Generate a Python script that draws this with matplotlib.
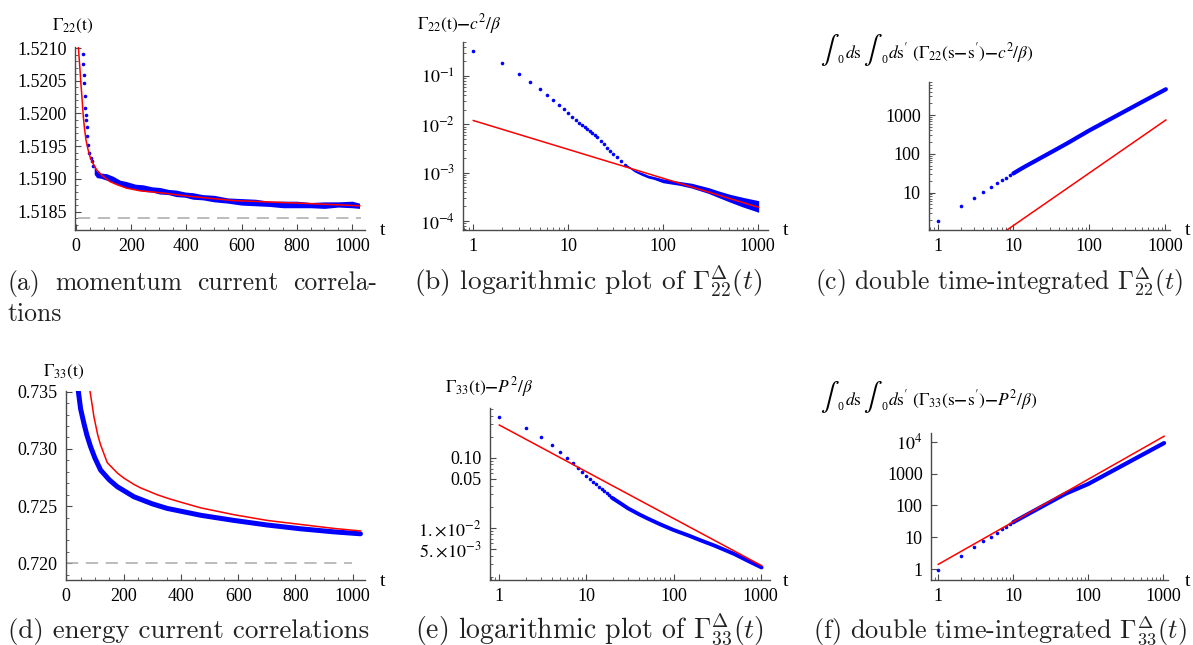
import numpy as np
import matplotlib
matplotlib.use("Agg")
import matplotlib.pyplot as plt
from matplotlib.ticker import MultipleLocator, FixedLocator, FixedFormatter, LogLocator, NullFormatter

# ── figure geometry (pixels of the reference) ───────────────
W, H = 1193, 645
BLUE = "#0000ff"
RED = "#ff0000"
AXC = "#4a4a4a"
GRAY = "#aaaaaa"

# ── (a) momentum current correlations Gamma_22(t) ──────────
a_dot_t = [24, 26.6, 29, 30, 32.6, 33.8, 35, 36, 38.6, 41, 44.5, 48, 53, 56.6, 62.6]
a_dot_y = [1.52091, 1.52076, 1.52059, 1.52046, 1.52026, 1.52008, 1.51998, 1.51990,
           1.51980, 1.51965, 1.51952, 1.51939, 1.51932, 1.51927, 1.51919]
a_band_t = [66, 75, 90, 111, 135, 160, 183, 215, 243, 275, 303, 335, 363, 395, 423, 460, 500,
            550, 600, 650, 700, 750, 800, 850, 900, 950, 1000, 1027]
a_band_mid = [1.51913, 1.51907, 1.51905, 1.51903, 1.51899, 1.51894, 1.51891, 1.51888, 1.51886,
              1.51884, 1.51882, 1.51880, 1.51878, 1.51876, 1.51874, 1.51872, 1.51870,
              1.51867, 1.51865, 1.51864, 1.51862, 1.51861, 1.51861, 1.51860, 1.51860,
              1.51861, 1.51861, 1.51859]
a_band_half = [6e-5, 5e-5, 4e-5, 5e-5, 5e-5, 4e-5, 5e-5, 4e-5, 5e-5, 4e-5, 5e-5, 4e-5, 5e-5,
               4e-5, 5e-5, 4e-5, 5e-5, 4e-5, 5e-5, 5e-5, 4e-5, 5e-5, 5e-5, 4e-5, 5e-5,
               4e-5, 5e-5, 4e-5]
a_fit_t = [8.5, 11, 14.5, 17, 20.5, 26.6, 30, 36, 43, 50.7, 60, 74.9, 95, 123, 150, 183,
           230, 303, 423, 569, 811, 1028]
a_fit_y = [1.52102, 1.52087, 1.52067, 1.52050, 1.52031, 1.51995, 1.51980, 1.51960, 1.51946,
           1.51934, 1.51925, 1.51914, 1.51905, 1.51896, 1.51891, 1.51886, 1.51882, 1.51879,
           1.51873, 1.51867, 1.51863, 1.51859]
a_plateau = 1.51841

# ── (b) log plot Gamma_22(t) - c^2/beta ─────────────────────
b_dot_t = list(range(1, 21)) + [22, 24, 26, 28, 30, 33, 36, 40]
b_dot_y = [0.329, 0.183, 0.111, 0.074, 0.0538, 0.0398, 0.0314, 0.0251, 0.0204, 0.0171,
           0.0144, 0.0123, 0.0108, 0.0097, 0.0087, 0.0079, 0.0072, 0.0065, 0.0059, 0.0054,
           0.0046, 0.0039, 0.0033, 0.0028, 0.00245, 0.0021, 0.00175, 0.00146]
b_band_t = [40, 45, 50, 60, 70, 80, 100, 150, 200, 300, 400, 500, 700, 1024]
b_band_mid = [0.00146, 0.00127, 0.00109, 0.00094, 0.00083, 0.00078, 0.00068, 0.00060,
              0.00054, 0.00043, 0.00035, 0.00030, 0.000245, 0.00020]
b_band_half = [0.02, 0.02, 0.02, 0.03, 0.03, 0.03, 0.04, 0.04, 0.05, 0.06, 0.07, 0.08, 0.10, 0.12]  # decades
b_fit_t = [1, 1024]
b_fit_y = [0.012, 0.000192]

# ── (c) double time-integrated Gamma_22 ─────────────────────
c_dot_t = list(range(1, 11))
c_dot_y = [1.90, 4.55, 7.43, 10.6, 13.8, 17.5, 20.8, 24.3, 28.0, 31.5]
c_line_t = [10, 12, 15, 20, 30, 50, 100, 200, 500, 1024]
c_line_y = [31.5, 39, 50, 68, 105, 182, 400, 830, 2180, 4600]
c_fit_t = [8, 1024]
c_fit_y = [1.06, 745]

# ── (d) energy current correlations Gamma_33(t) ─────────────
d_data_t = [41.8, 50, 61.6, 72, 84.9, 100, 119.8, 150, 177.9, 236, 300, 352, 469, 585, 701,
            817, 934, 1027]
d_data_y = [0.7351, 0.7335, 0.73223, 0.7312, 0.73019, 0.7292, 0.72815, 0.7273, 0.7267,
            0.72582, 0.7252, 0.7248, 0.72420, 0.72375, 0.72335, 0.72302, 0.72275, 0.72258]
d_fit_t = [82.5, 90, 96.5, 102, 110, 119.8, 143, 178, 201, 236, 259, 317, 352, 399, 469,
           585, 701, 817, 934, 1027]
d_fit_y = [0.7351, 0.7339, 0.73281, 0.73215, 0.73120, 0.73035, 0.72880, 0.72790, 0.72745,
           0.72690, 0.72660, 0.72600, 0.72570, 0.72535, 0.72485, 0.72425, 0.72375, 0.72340,
           0.72305, 0.72283]
d_plateau = 0.720

# ── (e) log plot Gamma_33(t) - P^2/beta ─────────────────────
e_dot_t = list(range(1, 21))
e_dot_y = [0.377, 0.268, 0.197, 0.152, 0.120, 0.0989, 0.084, 0.072, 0.063, 0.0553,
           0.0496, 0.0454, 0.0416, 0.0385, 0.0357, 0.033, 0.0309, 0.0293, 0.0277, 0.0263]
e_line_t = [20, 25, 30, 40, 50, 70, 100, 150, 200, 300, 500, 700, 1024]
e_line_y = [0.0263, 0.0220, 0.0189, 0.0156, 0.0136, 0.0112, 0.00927, 0.0077, 0.00667,
            0.0055, 0.0042, 0.0034, 0.0027]
e_fit_t = [1, 1024]
e_fit_y = [0.293, 0.00287]

# ── (f) double time-integrated Gamma_33 ─────────────────────
f_dot_t = list(range(1, 11))
f_dot_y = [0.95, 2.6, 4.9, 7.7, 10.6, 13.8, 18, 21.8, 26, 30]
f_line_t = [10, 20, 50, 100, 200, 500, 1024]
f_line_y = [30, 73, 235, 473, 1140, 3650, 9060]
f_fit_t = [1, 1024]
f_fit_y = [1.43, 14800]

# ── captions ────────────────────────────────────────────────
cap_a1 = ["(a)", "momentum", "current", "correla-"]
cap_a2 = "tions"
cap_b = r"(b) logarithmic plot of $\Gamma^{\Delta}_{22}(t)$"
cap_c = r"(c) double time-integrated $\Gamma^{\Delta}_{22}(t)$"
cap_d = "(d) energy current correlations"
cap_e = r"(e) logarithmic plot of $\Gamma^{\Delta}_{33}(t)$"
cap_f = r"(f) double time-integrated $\Gamma^{\Delta}_{33}(t)$"

# ────────────────────────────────────────────────────────────
plt.rcParams["font.family"] = "Liberation Serif"
plt.rcParams["mathtext.fontset"] = "stix"

LAB = 12.5   # axis label size
TICK = 13    # tick label size
CAP = 18.5   # caption size
CAPSTYLE = dict(family="cmr10", math_fontfamily="cm", color="#222222", va="baseline")


def px_axes(fig, left, top, right, bottom):
    return fig.add_axes([left / W, 1 - bottom / H, (right - left) / W, (bottom - top) / H])


def fig_text(fig, x, y, s, **kw):
    return fig.text(x / W, 1 - y / H, s, **kw)


def width_px(fig, t):
    return t.get_window_extent(fig.canvas.get_renderer()).width


def style(ax):
    for side in ("top", "right"):
        ax.spines[side].set_visible(False)
    for side in ("left", "bottom"):
        ax.spines[side].set_color(AXC)
        ax.spines[side].set_linewidth(1.0)
    ax.tick_params(which="both", direction="in", color=AXC, labelsize=TICK, pad=6)
    ax.tick_params(which="major", length=4.5, width=0.8)
    ax.tick_params(which="minor", length=2.5, width=0.6)
    ax.patch.set_alpha(0)


def log_minor(ax):
    for axis in (ax.xaxis, ax.yaxis):
        axis.set_minor_locator(LogLocator(base=10, subs=np.arange(2, 10)))
        axis.set_minor_formatter(NullFormatter())


def log_x_ticks(ax):
    ax.xaxis.set_major_locator(FixedLocator([1, 10, 100, 1000]))
    ax.xaxis.set_major_formatter(FixedFormatter(["1", "10", "100", "1000"]))


def integral_label(fig, y, body):
    # \int_0 ds \int_0 ds' (...) laid out piece by piece so the integral signs come out large
    x = 820
    for piece in (r"$d\mathrm{s}$", body):
        t = fig_text(fig, x, y - 1, r"$\int$", fontsize=20, ha="left", va="baseline")
        x += width_px(fig, t) - 2
        t = fig_text(fig, x, y + 5, "0", fontsize=8.5, ha="left", va="baseline")
        x += width_px(fig, t) + 1
        t = fig_text(fig, x, y, piece, fontsize=LAB, ha="left", va="baseline")
        x += width_px(fig, t) + 2


def caption_justified(fig, words, x0, x1, y):
    texts = [fig_text(fig, x0, y, w, ha="left", fontsize=CAP, **CAPSTYLE) for w in words]
    widths = [width_px(fig, t) for t in texts]
    gap = (x1 - x0 - sum(widths)) / (len(words) - 1)
    x = x0
    for t, w in zip(texts, widths):
        t.set_x(x / W)
        x += w + gap


def caption_fit(fig, s, x0, x1, y):
    # one line, centred, font size scaled so the line spans x0..x1
    t = fig_text(fig, (x0 + x1) / 2, y, s, ha="center", fontsize=CAP, **CAPSTYLE)
    size = CAP * (x1 - x0) / width_px(fig, t)
    t.set_fontsize(min(max(size, CAP - 1.5), CAP + 1.5))


fig = plt.figure(figsize=(W / 100, H / 100), dpi=100)
dot = dict(ls="none", marker="o", ms=2.6, mec="none", mfc=BLUE)

# (a)
ax = px_axes(fig, 75, 46.7, 365, 230)
style(ax)
ax.axhline(a_plateau, xmin=0.01, xmax=0.985, color=GRAY, lw=1.1, dashes=(8, 5))
ax.fill_between(a_band_t, np.array(a_band_mid) - np.array(a_band_half),
                np.array(a_band_mid) + np.array(a_band_half), color=BLUE, lw=0)
ax.plot(a_dot_t, a_dot_y, **dot)
ax.plot(a_fit_t, a_fit_y, color=RED, lw=1.1)
ax.set_xlim(-3.6, 1047)
ax.set_ylim(1.51822, 1.52102)
ax.xaxis.set_major_locator(MultipleLocator(200))
ax.xaxis.set_minor_locator(MultipleLocator(50))
ax.yaxis.set_major_locator(MultipleLocator(0.0005))
ax.yaxis.set_minor_locator(MultipleLocator(0.0001))
ax.yaxis.set_major_formatter(plt.FuncFormatter(lambda v, p: f"{v:.4f}"))
fig_text(fig, 52, 26, r"$\Gamma_{22}(\mathrm{t})$", fontsize=LAB, va="center")
fig_text(fig, 383, 231, "t", fontsize=14, ha="center", va="center")

# (b)
ax = px_axes(fig, 463.3, 41.7, 768, 230)
style(ax)
ax.set_xscale("log")
ax.set_yscale("log")
mid = np.array(b_band_mid)
half = np.array(b_band_half)
ax.fill_between(b_band_t, mid * 10 ** (-half), mid * 10 ** half, color=BLUE, lw=0)
ax.plot(b_dot_t, b_dot_y, **dot)
ax.plot(b_fit_t, b_fit_y, color=RED, lw=1.1)
ax.set_xlim(0.784, 1285)
ax.set_ylim(6.52e-5, 0.513)
log_x_ticks(ax)
ax.yaxis.set_major_locator(FixedLocator([1e-4, 1e-3, 1e-2, 1e-1]))
ax.yaxis.set_major_formatter(FixedFormatter([r"$10^{-4}$", r"$10^{-3}$", r"$10^{-2}$", r"$10^{-1}$"]))
log_minor(ax)
fig_text(fig, 417, 24, r"$\Gamma_{22}(\mathrm{t})\boldsymbol{-}c^2/\beta$", fontsize=LAB, va="center")
fig_text(fig, 786, 231, "t", fontsize=14, ha="center", va="center")

# (c)
ax = px_axes(fig, 929, 81.7, 1170, 230)
style(ax)
ax.set_xscale("log")
ax.set_yscale("log")
ax.plot(c_line_t, c_line_y, color=BLUE, lw=3.0, solid_capstyle="round")
ax.plot(c_dot_t, c_dot_y, **dot)
ax.plot(c_fit_t, c_fit_y, color=RED, lw=1.1)
ax.set_xlim(0.768, 1161)
ax.set_ylim(1.096, 7200)
log_x_ticks(ax)
ax.yaxis.set_major_locator(FixedLocator([10, 100, 1000]))
ax.yaxis.set_major_formatter(FixedFormatter(["10", "100", "1000"]))
log_minor(ax)
integral_label(fig, 58, r"$d\mathrm{s}'\ (\Gamma_{22}(\mathrm{s}\boldsymbol{-}\mathrm{s}')\boldsymbol{-}c^2/\beta)$")
fig_text(fig, 1188, 231, "t", fontsize=14, ha="center", va="center")

# (d)
ax = px_axes(fig, 66, 390.7, 365, 580)
style(ax)
ax.axhline(d_plateau, xmin=0.0, xmax=0.955, color=GRAY, lw=1.1, dashes=(8, 5))
ax.plot(d_data_t, d_data_y, color=BLUE, lw=3.6, solid_capstyle="round")
ax.plot(d_fit_t, d_fit_y, color=RED, lw=1.1)
ax.set_xlim(-1, 1043)
ax.set_ylim(0.71854, 0.73509)
ax.xaxis.set_major_locator(MultipleLocator(200))
ax.xaxis.set_minor_locator(MultipleLocator(50))
ax.yaxis.set_major_locator(MultipleLocator(0.005))
ax.yaxis.set_minor_locator(MultipleLocator(0.001))
ax.yaxis.set_major_formatter(plt.FuncFormatter(lambda v, p: f"{v:.3f}"))
fig_text(fig, 43, 372, r"$\Gamma_{33}(\mathrm{t})$", fontsize=LAB, va="center")
fig_text(fig, 383, 581, "t", fontsize=14, ha="center", va="center")

# (e)
ax = px_axes(fig, 490, 408, 770, 580)
style(ax)
ax.set_xscale("log")
ax.set_yscale("log")
ax.plot(e_line_t, e_line_y, color=BLUE, lw=2.8, solid_capstyle="round")
ax.plot(e_dot_t, e_dot_y, **dot)
ax.plot(e_fit_t, e_fit_y, color=RED, lw=1.1)
ax.set_xlim(0.782, 1279)
ax.set_ylim(1.79e-3, 0.513)
log_x_ticks(ax)
ax.yaxis.set_major_locator(FixedLocator([0.005, 0.01, 0.05, 0.10]))
ax.yaxis.set_major_formatter(FixedFormatter([r"$5.\!\times\!10^{-3}$", r"$1.\!\times\!10^{-2}$", "0.05", "0.10"]))
log_minor(ax)
fig_text(fig, 445, 387, r"$\Gamma_{33}(\mathrm{t})\boldsymbol{-}P^2/\beta$", fontsize=LAB, va="center")
fig_text(fig, 786, 581, "t", fontsize=14, ha="center", va="center")

# (f)
ax = px_axes(fig, 931, 433.3, 1168, 580)
style(ax)
ax.set_xscale("log")
ax.set_yscale("log")
ax.plot(f_line_t, f_line_y, color=BLUE, lw=3.0, solid_capstyle="round")
ax.plot(f_dot_t, f_dot_y, **dot)
ax.plot(f_fit_t, f_fit_y, color=RED, lw=1.1)
ax.set_xlim(0.8, 1155)
ax.set_ylim(0.462, 18300)
log_x_ticks(ax)
ax.yaxis.set_major_locator(FixedLocator([1, 10, 100, 1000, 1e4]))
ax.yaxis.set_major_formatter(FixedFormatter(["1", "10", "100", "1000", r"$10^4$"]))
log_minor(ax)
integral_label(fig, 405, r"$d\mathrm{s}'\ (\Gamma_{33}(\mathrm{s}\boldsymbol{-}\mathrm{s}')\boldsymbol{-}P^2/\beta)$")
fig_text(fig, 1188, 581, "t", fontsize=14, ha="center", va="center")

# ── captions (LaTeX look) ───────────────────────────────────
caption_justified(fig, cap_a1, 8, 377, 290)
fig_text(fig, 8, 321, cap_a2, ha="left", fontsize=CAP, **CAPSTYLE)
caption_fit(fig, cap_b, 414, 763, 290)
caption_fit(fig, cap_c, 815, 1183, 290)
caption_fit(fig, cap_d, 8, 370, 638)
caption_fit(fig, cap_e, 412, 768, 638)
caption_fit(fig, cap_f, 813, 1187, 638)

fig.savefig("out.png", dpi=100)
